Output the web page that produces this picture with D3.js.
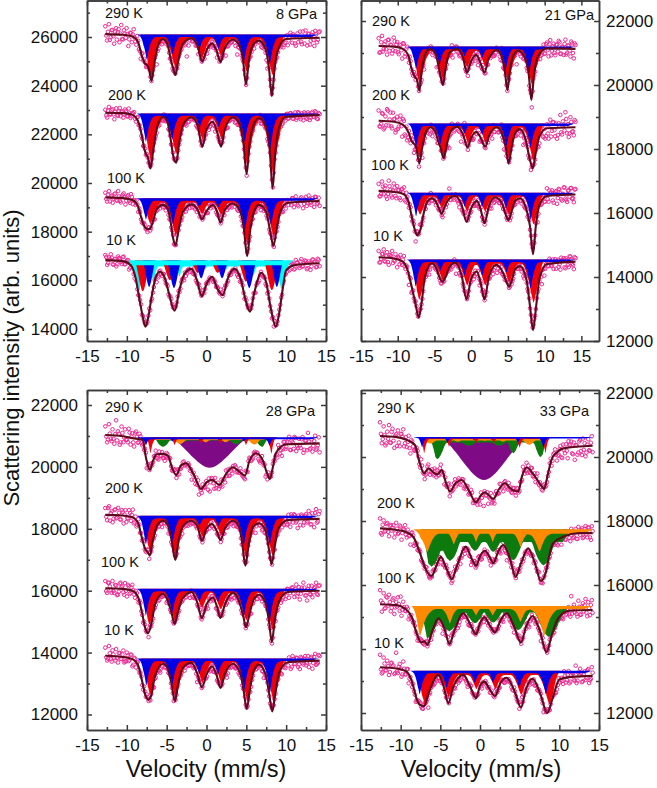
<!DOCTYPE html>
<html><head><meta charset="utf-8">
<script src="https://cdn.jsdelivr.net/npm/d3@7"></script>
<style>html,body{margin:0;background:#fff}svg{display:block}text{font-family:"Liberation Sans",Arial,sans-serif;fill:#111}</style>
</head><body><div id="c"></div>
<script>
// ---------- fitted envelopes, [velocity mm/s, counts] ----------
const fit_8_290=[[-12.7,26120],[-10.5,26090],[-9.3,26020],[-8.6,25800],[-8.1,25200],[-7.7,24900],[-7.46,24850],[-7.2,24650],[-6.9,24190],[-6.55,24900],[-6.1,25650],[-5.5,25920],[-4.9,25700],[-4.5,25100],[-4.2,24730],[-3.9,24440],[-3.55,25000],[-3,25700],[-1.9,25950],[-1.1,25600],[-.54,24990],[0,25450],[.7,25740],[1.25,25450],[1.75,24970],[2.25,25500],[3.3,25900],[4.2,25600],[4.6,25000],[4.96,24040],[5.3,25000],[5.8,25650],[6.6,25850],[7.4,25500],[7.85,24700],[8.2,23580],[8.55,24700],[9,25500],[10,25920],[14.2,25970]];
const fit_8_200=[[-12.7,22890],[-10.5,22870],[-9.3,22800],[-8.6,22550],[-8.15,22000],[-7.8,21400],[-7.6,21190],[-7.35,21050],[-7.04,20600],[-6.7,21300],[-6.2,22300],[-5.46,22720],[-4.9,22500],[-4.5,21800],[-4.2,21150],[-3.8,20830],[-3.45,21600],[-2.9,22400],[-1.9,22700],[-1.1,22350],[-.54,21490],[0,22200],[.8,22520],[1.3,22150],[1.83,21490],[2.3,22200],[3.3,22700],[4.2,22400],[4.65,21600],[5.04,20370],[5.4,21600],[5.9,22400],[6.6,22660],[7.5,22300],[7.95,21300],[8.3,19780],[8.65,21300],[9.1,22300],[10,22720],[14.2,22790]];
const fit_8_100=[[-12.7,19410],[-10.5,19380],[-9.3,19300],[-8.6,19050],[-8.2,18600],[-7.85,18250],[-7.46,18110],[-7.1,18110],[-6.75,18400],[-6.2,18950],[-5.46,19100],[-4.9,18950],[-4.5,18400],[-4.2,17750],[-3.88,17450],[-3.5,18100],[-2.9,18850],[-1.9,19120],[-1.1,18900],[-.58,18510],[0,18850],[.8,19100],[1.3,18850],[1.75,18370],[2.3,18900],[3.3,19160],[4.2,18850],[4.7,18100],[5.1,16990],[5.5,18100],[6,18850],[6.6,19100],[7.5,18800],[8,18000],[8.4,17420],[8.8,18100],[9.3,18850],[10.2,19190],[14.2,19260]];
const fit_8_10=[[-12.7,16830],[-10.5,16790],[-9.5,16620],[-8.9,16100],[-8.4,15200],[-8,14500],[-7.67,14090],[-7.3,14500],[-6.9,15300],[-6.4,16100],[-5.87,16350],[-5.3,16150],[-4.7,15450],[-4,14750],[-3.4,15600],[-2.8,16250],[-1.9,16470],[-1.2,16000],[-.58,15350],[0,15850],[.7,16150],[1.3,15700],[2.04,15390],[2.7,16100],[3.5,16470],[4.3,16050],[4.9,15200],[5.46,14710],[6,15500],[6.9,16310],[7.5,15900],[8.1,14800],[8.7,14090],[9.1,14600],[9.5,15500],[10,16420],[11,16620],[14.2,16700]];
const fit_21_290=[[-12.6,21220],[-10.5,21200],[-9.3,21130],[-8.6,20950],[-8.1,20500],[-7.6,20230],[-7.4,20180],[-7.06,19820],[-6.7,20500],[-6.2,21000],[-5.57,21125],[-4.9,21000],[-4.5,20650],[-4.2,20310],[-3.85,20000],[-3.5,20500],[-3,21000],[-1.95,21125],[-1.1,20850],[-.59,20385],[0,20750],[.68,20940],[1.25,20700],[1.8,20385],[2.35,20800],[3.5,21090],[4.2,20850],[4.6,20400],[4.93,19840],[5.3,20500],[5.8,20950],[6.4,21070],[7.3,20850],[7.85,20300],[8.2,19530],[8.55,20300],[9.1,20900],[10.3,21145],[14.2,21130]];
const fit_21_200=[[-12.6,18885],[-10.5,18850],[-9.3,18760],[-8.6,18550],[-8.1,18250],[-7.5,18070],[-7.06,17550],[-6.7,18000],[-6.2,18500],[-5.57,18680],[-4.9,18550],[-4.5,18250],[-4.2,18070],[-3.75,17710],[-3.3,18150],[-2.8,18550],[-1.95,18700],[-1.1,18450],[-.5,18050],[0,18350],[.68,18540],[1.3,18350],[1.9,18070],[2.5,18450],[3.5,18680],[4.3,18400],[4.75,18000],[5.1,17550],[5.5,18050],[6,18500],[6.65,18620],[7.4,18300],[8,17660],[8.4,17400],[8.8,17900],[9.3,18400],[10.3,18650],[14.2,18680]];
const fit_21_100=[[-12.6,16690],[-10.5,16660],[-9.3,16600],[-8.6,16400],[-8.1,15900],[-7.7,15500],[-7.4,15310],[-6.9,15490],[-6.5,15950],[-6,16350],[-5.34,16460],[-4.8,16350],[-4.4,16150],[-4.03,15970],[-3.6,16200],[-3,16450],[-2.17,16530],[-1.3,16250],[-.63,15720],[0,16150],[.77,16380],[1.3,16100],[1.81,15680],[2.4,16200],[3.26,16490],[4.2,16300],[4.7,15950],[5.07,15780],[5.5,16050],[6,16380],[6.65,16460],[7.4,16200],[8,15600],[8.42,14710],[8.8,15600],[9.3,16250],[10.3,16530],[14.2,16580]];
const fit_21_10=[[-12.6,14615],[-10.5,14580],[-9.3,14480],[-8.7,14250],[-8.2,13800],[-7.6,13190],[-7.15,12730],[-6.75,13200],[-6.3,14000],[-5.34,14430],[-4.7,14250],[-4.3,13980],[-3.9,13850],[-3.5,14000],[-3,14300],[-2.17,14450],[-1.3,14050],[-.63,13300],[0,13950],[.77,14170],[1.3,13800],[1.81,13300],[2.4,14000],[3.4,14380],[4.3,14150],[4.8,13850],[5.16,13700],[5.6,13950],[6,14250],[6.65,14340],[7.5,13950],[8,13100],[8.42,12340],[8.85,13100],[9.3,13950],[10.3,14405],[14.2,14480]];
const fit_28_290=[[-12.7,21030],[-10.5,20990],[-9.3,20930],[-8,20870],[-7.6,20300],[-7.1,19900],[-6.7,20200],[-6.3,20410],[-5.5,20420],[-4.83,20360],[-4.3,19950],[-3.8,19740],[-3.2,20050],[-2.54,20120],[-1.6,19750],[-.67,19290],[0,19500],[.7,19580],[1.63,19420],[2.4,19750],[3.3,19990],[4.1,19850],[4.83,19720],[5.4,20200],[6.2,20440],[7,20250],[7.6,19800],[7.96,19610],[8.3,19950],[8.7,20440],[10,20730],[14.2,20760]];
const fit_28_200=[[-12.7,18450],[-10.5,18430],[-9.3,18370],[-8.6,18200],[-8.15,17750],[-7.7,17350],[-7.46,17270],[-7.1,17140],[-6.75,17600],[-6.2,18100],[-5.46,18260],[-4.9,18150],[-4.4,17650],[-3.9,16990],[-3.5,17650],[-2.9,18100],[-1.9,18260],[-1.1,18050],[-.58,17610],[0,18000],[.7,18150],[1.25,17950],[1.75,17640],[2.3,18000],[3.3,18260],[4.1,18050],[4.5,17500],[4.88,16810],[5.3,17500],[5.8,18050],[6.6,18180],[7.4,17950],[7.8,17400],[8.17,16860],[8.55,17400],[9,18000],[10.2,18280],[14.2,18320]];
const fit_28_100=[[-12.7,16080],[-10.5,16060],[-9.3,16000],[-8.6,15800],[-8.1,15300],[-7.7,14800],[-7.33,14630],[-6.95,14900],[-6.4,15600],[-5.46,15900],[-4.9,15700],[-4.4,15300],[-4,14930],[-3.6,15300],[-3,15750],[-1.9,15960],[-1.2,15650],[-.58,15120],[0,15550],[.8,15780],[1.3,15500],[1.75,15120],[2.3,15550],[3.3,15930],[4.1,15650],[4.6,15200],[4.96,14820],[5.35,15200],[5.9,15700],[6.6,15870],[7.4,15600],[7.85,15000],[8.2,14340],[8.55,15000],[9.1,15650],[10.2,15960],[14.2,16000]];
const fit_28_10=[[-12.7,13900],[-10.5,13860],[-9.3,13790],[-8.6,13600],[-8.1,13100],[-7.7,12650],[-7.33,12480],[-6.95,12600],[-6.5,13200],[-5.46,13640],[-4.9,13500],[-4.4,13000],[-3.96,12430],[-3.55,13000],[-3,13500],[-1.9,13670],[-1.2,13350],[-.58,12880],[0,13300],[.7,13560],[1.3,13250],[1.75,12860],[2.3,13300],[3.3,13640],[4.2,13350],[4.65,12800],[5.04,12180],[5.45,12800],[5.9,13400],[6.6,13610],[7.4,13300],[7.85,12700],[8.25,12100],[8.65,12700],[9.1,13350],[10.2,13690],[14.2,13740]];
const fit_33_290=[[-12.6,20655],[-10.5,20620],[-9.3,20540],[-8.2,20375],[-7.7,19900],[-7.04,19490],[-6.5,19650],[-5.9,19520],[-5.37,19460],[-4.82,19590],[-4.3,19200],[-3.77,18920],[-3.1,19180],[-2.3,19280],[-1.4,18950],[-.5,18580],[.1,18800],[.63,18900],[1.2,18780],[1.68,18690],[2.4,19000],[3.14,19180],[4,18980],[4.82,18920],[5.3,19400],[5.87,19670],[6.9,19400],[7.6,19150],[8.1,19000],[8.5,19400],[9,19900],[9.7,20150],[10.5,20270],[14.2,20350]];
const fit_33_200=[[-12.6,17770],[-10.5,17720],[-9.3,17650],[-8.4,17500],[-7.55,16990],[-6.9,16520],[-6.1,16280],[-5.5,16600],[-4.95,16880],[-4.2,16500],[-3.56,16180],[-2.9,16600],[-1.8,17200],[-1,16800],[-.5,16600],[0,16900],[.63,17070],[1.2,16880],[1.68,16680],[2.3,17050],[2.93,17250],[3.8,16800],[4.49,16260],[5.2,16700],[6.08,17150],[6.9,16700],[7.67,16130],[8.3,16400],[8.8,17000],[9.2,17300],[10.5,17510],[12.5,17620],[14.2,17620]];
const fit_33_100=[[-12.6,15400],[-10.5,15370],[-9.5,15270],[-8.6,15000],[-8,14500],[-7.42,14200],[-7,14240],[-6.62,14130],[-6.1,14500],[-5.24,14960],[-4.5,14650],[-3.86,14160],[-3.2,14600],[-2.1,15120],[-1.2,14750],[-.5,14460],[0,14800],[.55,14990],[1.2,14750],[1.89,14520],[2.6,14900],[3.35,15120],[4.3,14700],[5.16,14200],[5.8,14700],[6.62,15030],[7.5,14600],[8.39,13900],[9,14400],[9.85,14960],[11.3,15200],[14.2,15220]];
const fit_33_10=[[-12.6,13430],[-10.5,13390],[-9.3,13300],[-8.6,13000],[-8,12450],[-7.55,12250],[-7.04,12220],[-6.5,12600],[-5.24,13190],[-4.6,12850],[-3.98,12300],[-3.4,12800],[-2.1,13190],[-1.2,12800],[-.5,12460],[0,12850],[.55,12980],[1.2,12750],[1.89,12530],[2.6,12950],[3.35,13100],[4.4,12650],[5.16,12170],[5.8,12750],[6.62,13070],[7.6,12600],[8.47,12000],[9.2,12500],[10,13050],[11.5,13130],[14.2,13160]];

// ---------- scatter of each spectrum about its fit, counts, one value per velocity channel ----------
const res_8_290=[320,-260,410,-120,180,-380,260,90,-310,400,-190,60,300,-420,140,-240,350,-90,210,-150,-280,180,120,-110,60,90,-30,50,120,-520,-160,40,-180,90,-60,120,-40,70,-90,30,140,-70,80,-30,60,-110,-620,-220,50,-90,130,-70,30,120,-60,90,-130,170,-40,60,110,-90,60,-240,80,140,-70,90,-330,-40,70,-60,100,-50,130,-90,60,-40,90,150,-80,60,-100,40,-170,90,110,-60,-140,90,-50,-220,80,-50,70,-40,120,-90,60,-50,80,-140,90,-260,60,140,180,-200,90,-150,280,-240,60,320,-300,170,-110,240,-330,140,-80,260];
const res_8_200=[120,-200,240,-70,150,-260,190,-110,210,40,-180,170,-90,230,-140,80,190,-120,150,60,-100,-140,90,60,-110,70,-60,130,-40,90,-80,110,-170,-60,70,-90,40,120,-70,60,-120,-40,60,100,-50,-150,-80,90,-60,50,130,-90,70,-50,110,-40,-130,80,-60,120,-90,-190,40,-60,100,-70,120,-40,-110,60,80,-50,-130,120,-70,50,90,-40,-80,110,-50,70,-140,100,50,-80,190,-70,60,-90,-170,80,50,-60,110,-40,-70,90,-50,70,-110,120,-60,140,-90,60,-140,170,-50,110,-180,90,-130,60,-90,150,-70,120,-160,40];
const res_8_100=[190,-170,260,40,-210,150,-90,280,-120,60,200,-240,110,-60,230,-150,90,170,-200,60,-130,90,-50,-120,70,-90,60,-150,-40,110,-70,60,90,-130,50,-100,-60,120,-80,170,-40,90,-70,60,-110,250,-90,40,110,-70,-120,60,80,-50,170,-60,-140,90,50,-70,300,-110,70,-60,90,-160,50,110,-40,-130,70,90,-60,120,-50,-90,60,280,-70,-200,90,50,-110,70,-50,-140,80,60,-90,210,-60,50,-130,80,-70,100,-50,-160,110,60,-90,70,180,-200,240,-110,60,190,-260,90,-170,250,-60,130,-230,170,-90,-200];
const res_8_10=[210,-190,120,250,-150,60,-230,180,90,-120,200,-70,140,-210,80,170,-130,60,-100,110,-90,60,80,-70,110,-50,-90,60,-240,-150,70,-60,90,-50,100,-70,60,-60,90,-40,110,-80,70,-230,-120,60,-70,90,-50,60,-100,80,-40,70,-130,60,-50,90,-40,-90,70,60,-80,120,-50,70,-60,-120,80,50,-60,100,-70,60,-40,90,-140,70,-50,110,-60,80,-150,70,-60,90,-40,60,-70,100,-60,-220,-280,60,-50,100,80,190,120,-90,250,-70,140,-170,210,90,-130,230,-60,160,-200,110,-240,170,60,-150,190,-120];
const res_21_290=[240,-190,320,-90,150,-260,210,60,-220,280,-130,170,-200,90,-310,190,-60,220,-140,110,-90,70,-60,130,-50,-110,90,-300,-60,70,-50,90,-130,60,-40,130,-90,50,210,-70,-50,100,-60,-90,-200,60,90,-50,-110,70,-40,130,-60,-180,50,-90,170,-50,90,-220,50,-70,120,-40,80,-120,60,230,-60,-90,90,50,-70,280,-140,60,-50,100,-70,-50,110,-60,-380,70,-50,90,-80,120,-60,190,-90,-330,70,-50,110,80,-150,-60,210,-110,180,-250,260,-80,150,-210,120,240,-170,60,-200,280,-130,90,-240,170,-300,120];
const res_21_200=[320,-180,240,-260,150,380,-130,280,-210,80,-320,190,-100,260,-380,160,-240,-310,90,-160,60,-280,-90,70,-150,60,-330,-100,80,130,-60,90,-220,-50,70,-130,210,-60,90,-40,110,-140,-380,-80,60,-90,50,120,-60,-300,-70,480,60,-100,70,-50,-130,90,-60,220,-170,-60,90,-50,100,-110,60,-40,190,-80,60,-100,50,300,-90,60,-140,90,-50,70,310,-60,-110,50,-70,90,-300,-160,60,-90,70,-50,260,-110,90,-200,150,230,-170,-270,120,-330,260,-90,180,-260,-340,140,400,-210,90,480,-180,-300,320,-140,-250,170];
const res_21_100=[220,-160,300,-90,180,-230,340,60,-180,260,-120,200,90,-210,150,240,-140,70,-110,130,-80,60,-300,90,-60,110,-50,120,-70,60,-90,190,-60,50,-110,80,-40,100,-170,60,-90,120,310,-70,50,-100,70,-50,-170,60,-80,90,130,-60,70,-100,240,-60,-130,90,-50,130,-100,-60,90,220,-90,-180,60,-120,-60,70,-50,120,-70,90,-50,230,-130,-60,80,-90,60,-40,70,-90,50,-70,60,110,-90,-50,260,-70,120,-90,90,-50,150,-120,240,-180,70,170,-220,110,-260,200,60,-170,240,-110,-220,140,200,-130,-240,170];
const res_21_10=[200,-150,110,260,-120,180,-210,90,230,-60,150,-240,70,180,-110,230,-90,60,-300,110,-70,-50,90,-60,80,-50,-70,90,-50,60,-180,80,-60,90,-50,70,-40,-120,70,-60,60,90,-50,-110,-60,120,-300,50,-70,60,-90,-50,90,-70,60,-100,70,-50,-60,120,-170,60,90,-50,-70,60,-90,50,-130,80,90,-50,-60,120,-40,-70,50,90,-60,-120,-90,60,80,-50,100,-70,-110,60,-40,70,-50,-60,70,-50,80,-60,120,-320,60,-50,90,-70,100,-60,-170,130,60,-120,-210,90,140,-180,70,-150,170,-60,-230,110];
const res_28_290=[280,-230,360,-110,200,-260,500,150,-280,310,-190,240,-90,280,-220,160,-260,230,-120,180,-100,-60,110,-260,-70,130,-60,90,150,-140,80,-60,-130,-200,70,-50,120,-90,60,140,-70,-170,-100,70,-50,-40,90,-60,-260,50,-200,-120,-320,-60,90,-70,50,-260,-340,70,-80,130,-60,-150,-90,-210,-60,120,90,-170,-70,50,110,-80,-50,130,-60,-90,70,-160,110,-70,-60,90,50,-110,-170,90,-60,-250,-180,70,-60,120,-70,-60,200,-130,-250,150,-130,90,240,-190,60,230,-230,-130,-50,150,-290,100,-210,70,-150,-260,80,-200,-60,-290];
const res_28_200=[220,-170,280,60,-230,170,-100,240,-130,170,-250,190,-60,210,-120,260,-90,-170,150,-60,-90,110,-60,80,-140,-50,90,-50,100,-70,60,-180,-50,120,-60,70,-100,60,80,-70,110,-60,-150,70,-50,-90,60,-80,-40,100,-60,120,-60,-90,50,-50,110,-70,-50,180,330,-60,70,-90,50,-120,60,-40,90,-70,-150,60,-50,110,-60,70,-40,-90,60,80,-50,100,-240,60,-60,90,-60,-110,50,70,-60,-90,60,150,-70,-90,80,60,130,-130,170,-220,110,180,-90,-270,60,160,-190,120,-100,270,-170,190,-260,320,-80,250];
const res_28_100=[230,-150,180,-60,240,-140,100,-190,170,50,-110,200,-220,120,-80,190,-60,120,-90,70,-40,-150,70,-50,-170,60,-90,50,-70,90,-50,140,-60,70,-130,90,-40,60,-90,70,-50,-70,90,-60,100,-40,70,-160,60,-40,50,-70,90,-100,-40,70,-60,-180,60,90,-60,150,-50,-70,50,-100,70,-60,100,-40,-150,60,-50,90,-60,80,-50,110,-60,-90,60,-180,-50,70,-60,80,-40,-90,60,-70,110,-60,-150,-90,60,70,-70,40,-60,170,-150,120,-190,70,140,-170,230,-60,-260,120,280,-140,-300,170,-120,-200,90,260,-130,170];
const res_28_10=[260,-150,320,-100,190,-60,240,-190,120,-70,210,-130,170,-90,130,-230,100,-150,90,-60,50,-130,60,90,-60,-110,70,-200,-60,80,-40,-60,90,-50,70,-40,110,-60,-190,-60,50,70,-50,60,-120,90,-40,-60,70,-50,60,-280,-50,70,-40,90,-100,60,-60,50,-90,70,-130,-40,70,-60,90,-50,-100,60,-40,70,-50,100,-60,50,-70,110,-40,-80,60,-120,-60,70,-40,-70,90,-60,-200,50,60,-80,-40,70,-50,80,-60,140,-160,90,-100,60,150,-220,190,-70,130,-170,-240,110,-100,170,-60,-190,90,-250,130,-130,-70,150];
const res_33_290=[430,-220,310,-280,150,360,-190,250,-340,90,220,-260,140,300,-120,-220,170,-350,60,-180,-50,130,-90,200,-70,-200,-90,120,-160,60,-90,80,120,-80,200,-60,-200,-70,80,-170,60,-90,140,-60,100,-130,50,-160,-100,70,-50,140,-180,-80,60,-60,-250,-100,-400,-90,60,-50,120,-120,-200,90,-70,140,-60,-200,70,-80,120,-50,-100,70,-150,90,-130,-60,240,-80,150,120,-50,160,-70,-150,200,-80,-60,-110,130,-140,-60,110,-180,90,170,-260,-110,130,-280,-60,120,-320,80,190,-210,-390,60,-170,220,-260,-100,-310,50,-130,100,-200];
const res_33_200=[310,-190,260,-60,190,-220,140,50,-240,220,-120,160,-270,80,210,-150,-60,-300,120,-230,-60,-90,60,-120,-40,-60,80,-70,-130,-40,60,-50,70,110,-60,-120,-40,90,-50,60,-130,-40,120,-60,50,-180,-40,70,-90,50,-60,-230,-50,80,-40,100,-60,-150,-50,-70,70,-60,-200,90,-50,-110,60,-90,-40,80,-60,-240,50,-70,90,-40,-60,70,-140,-50,-80,60,-70,-110,-40,60,-90,70,-50,100,-60,-170,-40,90,-50,-110,80,-60,70,-110,60,120,-70,160,-110,90,-80,190,-110,60,-160,200,-50,150,-120,220,-130,170,-210,60];
const res_33_100=[440,-230,350,-110,220,310,-200,160,-280,100,260,-140,-270,190,-60,130,-190,-90,-50,70,-40,-170,-60,90,-50,-100,70,-40,60,-90,-40,50,80,-60,-40,-260,60,-50,70,-40,90,-60,-50,70,-110,50,-60,-40,100,-40,-70,60,-90,-40,60,-100,-40,50,-110,70,-40,90,-50,-60,70,-40,-90,50,-60,-150,60,-50,80,-50,-70,-190,60,-40,100,-60,-50,400,60,-90,-40,70,-60,-60,90,-40,-220,60,-70,40,-80,60,90,-40,-50,70,-60,60,-70,150,-60,50,-110,450,90,-60,-110,300,-130,120,-40,350,-190,60,160,-90];
const res_33_10=[390,-190,310,-80,220,-220,150,50,-180,490,-130,170,-210,280,-100,110,-240,50,-140,-60,-190,-50,60,-40,-100,50,-70,-420,-60,60,-40,50,-120,-60,40,70,-50,-70,60,280,180,-50,-110,40,-60,-50,70,-60,-40,-140,60,90,-50,-60,40,-90,50,-140,-60,70,-50,40,-70,460,-60,130,-50,-90,60,-40,-110,-50,70,50,-60,100,-40,-70,-160,60,-50,60,-40,90,-60,-120,50,-40,-70,60,50,-90,-110,-60,50,-130,90,60,-50,-100,90,-40,-70,220,-140,90,-190,60,100,-130,-200,120,240,-180,70,-120,180,-220,-90,100];

// ---------- absorption lines of each component: [centre mm/s, lowest counts, half span mm/s] ----------
const red_8_290=[[-6.95,24400,1.9],[-3.85,24700,1.9],[-.55,25150,1.7],[1.85,25250,1.7],[5.05,24600,1.9],[8.3,24450,1.9]];
const blue_8_290=[[-7.5,25100,1.5],[-4.25,25300,1.5],[-.9,25500,1.4],[1.5,25500,1.4],[4.7,25000,1.5],[7.95,24900,1.5]];
const red_8_200=[[-7,21000,1.9],[-3.8,21200,1.9],[-.5,21800,1.7],[1.9,21800,1.7],[5.1,20800,1.9],[8.35,20450,1.9]];
const blue_8_200=[[-7.6,21700,1.5],[-4.3,21800,1.5],[-.85,22300,1.4],[1.55,22300,1.4],[4.8,21700,1.5],[8,21400,1.5]];
const red_8_100=[[-7.05,18350,1.9],[-3.85,17850,1.9],[-.55,18750,1.7],[1.85,18700,1.7],[5.15,17500,1.9],[8.45,17800,1.9]];
const blue_8_100=[[-7.6,18500,1.5],[-4.2,18300,1.5],[-.9,19000,1.4],[1.5,19000,1.4],[4.8,18000,1.5],[8.1,18300,1.5]];
const cyan_8_10=[[-8.5,15560,2.2],[-6.7,16000,1.6],[-3.4,16150,1.4],[-.1,16450,.9],[2.5,16450,.9],[5.9,16200,1.4],[9.4,15650,2]];
const red_8_10=[[-8,15550,1],[-4.6,16000,1],[-1.1,16300,.9],[1.4,16300,.9],[4.95,15950,1],[8.2,15590,1]];
const blue_8_10=[[-7.2,15730,.8],[-4.08,15680,.9],[-.67,16090,.8],[1.96,16090,.8],[5.37,15680,.9],[8.83,15730,.8]];
const red_21_290=[[-7,20050,1.9],[-3.85,20200,1.9],[-.55,20550,1.7],[1.9,20600,1.7],[5.05,20100,1.9],[8.3,20000,1.9]];
const blue_21_290=[[-7.5,20500,1.5],[-4.3,20650,1.5],[-.9,20900,1.4],[1.5,20850,1.4],[4.7,20500,1.5],[7.9,20400,1.5]];
const red_21_200=[[-7,17750,1.9],[-3.75,17800,1.9],[-.4,18200,1.7],[2,18200,1.7],[5.15,17750,1.9],[8.45,17650,1.9]];
const blue_21_200=[[-7.5,18050,1.5],[-4.2,18150,1.5],[-.9,18500,1.4],[1.5,18450,1.4],[4.8,18100,1.5],[8.1,18050,1.5]];
const red_21_100=[[-6.95,15950,1.9],[-3.95,16150,1.8],[-.55,16050,1.7],[1.9,16050,1.7],[5.15,15950,1.8],[8.5,15650,1.9]];
const blue_21_100=[[-7.5,15900,1.5],[-4.2,16300,1.4],[-.9,16200,1.4],[1.5,16200,1.4],[4.75,16150,1.4],[8.1,15800,1.5]];
const red_21_10=[[-7.05,13300,2],[-3.85,13900,1.8],[-.55,13750,1.8],[1.9,13750,1.8],[5.2,13850,1.8],[8.5,13200,2]];
const blue_21_10=[[-7.55,13700,1.6],[-4.2,14200,1.4],[-.9,14050,1.4],[1.5,14050,1.4],[4.8,14150,1.4],[8.1,13650,1.6]];
const red_28_290=[[-7.04,20450,1],[-4,20710,.9],[-.67,20770,.9],[1.7,20770,.9],[4.96,20710,.9],[8.17,20390,1]];
const green_28_290=[[-5.46,20650,1.4],[-2.6,20820,1.1],[3.7,20720,1.3],[7,20650,1.3]];
const orange_28_290=[[-3.3,20740,1.2],[-.1,20800,1],[2.4,20800,1],[6,20720,1.2]];
const purple_28_290=[[.4,19970,5]];
const blue_28_290=[[-7.6,20700,1],[-4.3,20820,.9],[-.9,20870,.8],[1.5,20870,.8],[4.7,20820,.9],[7.9,20690,1]];
const red_28_200=[[-7.05,17250,1.9],[-3.85,17100,1.9],[-.5,17750,1.7],[1.85,17800,1.7],[5,17050,1.9],[8.3,17150,1.9]];
const blue_28_200=[[-7.6,17500,1.5],[-4.25,17600,1.5],[-.9,18100,1.4],[1.5,18100,1.4],[4.7,17500,1.5],[7.95,17500,1.5]];
const red_28_100=[[-7.15,14900,1.9],[-3.95,15050,1.9],[-.55,15450,1.7],[1.8,15400,1.7],[5,15050,1.9],[8.3,14750,1.9]];
const blue_28_100=[[-7.6,15200,1.5],[-4.3,15300,1.5],[-.9,15650,1.4],[1.45,15650,1.4],[4.7,15200,1.5],[7.9,14950,1.5]];
const red_28_10=[[-7.05,12650,1.9],[-3.85,12550,1.9],[-.5,13050,1.7],[1.9,13000,1.7],[5.15,12450,1.9],[8.45,12400,1.9]];
const blue_28_10=[[-7.55,12950,1.5],[-4.3,12950,1.5],[-.9,13300,1.4],[1.45,13300,1.4],[4.75,12800,1.5],[7.95,12700,1.5]];
const orange_33_290=[[-6.2,20420,1.2],[-2.8,20480,1.2],[.6,20500,1],[2.9,20480,1.1],[6.2,20380,1.3]];
const green_33_290=[[-5.37,19940,1.5],[-1.4,20350,2],[2.4,20350,2],[4.2,20120,1.1],[7.63,20000,1.2]];
const red_33_290=[[-7.04,20125,1],[-3.9,20320,.9],[-.5,20430,.8],[1.76,20430,.8],[5,20290,.9],[8.26,20125,1]];
const purple_33_290=[[.5,19280,5.5]];
const blue_33_290=[[-7.3,20300,.9],[-4.1,20450,.8],[-.8,20530,.7],[1.5,20530,.7],[4.8,20450,.8],[8,20300,.9]];
const green_33_200=[[-6.1,16570,2.4],[-4.95,17060,1.5],[-3.77,16750,2.2],[-.63,17070,1.8],[1.68,17040,1.8],[4.2,16780,2],[8,16620,2.4]];
const orange_33_200=[[-6.65,17040,2.6],[-3.3,17280,1.8],[-.5,17350,1.4],[1.6,17350,1.4],[5.1,17200,2],[7.5,17050,2.6]];
const green_33_100=[[-6.62,14340,2.4],[-5.24,14960,1.4],[-3.86,14550,2.2],[-.63,14810,1.8],[1.68,14830,1.8],[4.82,14600,2],[8.72,14380,2.4]];
const orange_33_100=[[-7.55,14420,2.6],[-3.8,14800,1.8],[-.5,15050,1.4],[1.6,15050,1.4],[5.1,14850,2],[8.1,14420,2.6]];
const red_33_10=[[-6.85,12230,2],[-3.95,12510,1.8],[-.45,12750,1.6],[1.95,12750,1.6],[5.2,12570,1.8],[8.75,12270,2]];
const blue_33_10=[[-7.6,12590,1.6],[-4.2,12790,1.5],[-.65,12950,1.3],[1.65,12950,1.3],[4.95,12790,1.5],[8.3,12590,1.6]];

const velocityTicks=[-15,-10,-5,0,5,10,15];
const velocityMinor=[-12.5,-7.5,-2.5,2.5,7.5,12.5];
const colours={red:"#f00008",blue:"#0000e8",cyan:"#00fbfb",green:"#0c7a0c",orange:"#ff8a00",purple:"#7f0a86"};

// component: [colour, lines, top counts, band depth, band start, band end, shape]
const sharp=[[0,1],[.1,.78],[.22,.52],[.4,.28],[.65,.12],[1,0]];
const medium=[[0,1],[.12,.85],[.28,.58],[.5,.3],[.75,.12],[1,0]];
const bell=[[0,1],[.2,.9],[.4,.68],[.65,.35],[.85,.12],[1,0]];
const pair=(t,rf,bf,r,b)=>[["red",r,t,rf,-8.3,10.2,medium],["blue",b,t,bf,-8.8,14.1,sharp]];

const panels=[
 {title:"8 GPa",xr:[87,326],xd:[-15,15],top:.5,bottom:341,ya:[14000,329],yb:[26000,37],ticks:[14000,16000,18000,20000,22000,24000,26000],side:"left",
  titleAt:[317,19],
  spectra:[
   {t:"290 K",at:[105,18],fit:fit_8_290,res:res_8_290,comps:pair(26100,170,100,red_8_290,blue_8_290)},
   {t:"200 K",at:[108,100],fit:fit_8_200,res:res_8_200,comps:pair(22860,170,100,red_8_200,blue_8_200)},
   {t:"100 K",at:[107,183],fit:fit_8_100,res:res_8_100,comps:pair(19370,170,100,red_8_100,blue_8_100)},
   {t:"10 K",at:[106,245],fit:fit_8_10,res:res_8_10,comps:[["cyan",cyan_8_10,16810,240,-9.8,10.9,sharp],["red",red_8_10,16810,0,-9.6,10.7,bell],["blue",blue_8_10,16810,0,-9.6,10.7,bell],["cyan",[],16810,190,-9.8,10.9,sharp]]}]},
 {title:"21 GPa",xr:[361,599],xd:[-15,17.4],top:.5,bottom:341,ya:[14000,277],yb:[22000,21],ticks:[12000,14000,16000,18000,20000,22000],side:"right",
  titleAt:[594,20],
  spectra:[
   {t:"290 K",at:[372,26],fit:fit_21_290,res:res_21_290,comps:pair(21200,130,80,red_21_290,blue_21_290)},
   {t:"200 K",at:[372,100],fit:fit_21_200,res:res_21_200,comps:pair(18800,130,80,red_21_200,blue_21_200)},
   {t:"100 K",at:[371,170],fit:fit_21_100,res:res_21_100,comps:pair(16635,130,80,red_21_100,blue_21_100)},
   {t:"10 K",at:[373,241],fit:fit_21_10,res:res_21_10,comps:pair(14550,130,80,red_21_10,blue_21_10)}]},
 {title:"28 GPa",xr:[87,326],xd:[-15,15],top:390,bottom:730,ya:[12000,714.5],yb:[22000,405],ticks:[12000,14000,16000,18000,20000,22000],side:"left",
  titleAt:[315,416],
  spectra:[
   {t:"290 K",at:[105,412],fit:fit_28_290,res:res_28_290,comps:[["purple",purple_28_290,20960,0,-5.5,6.5,bell],["green",green_28_290,20960,110,-7,8,bell],["orange",orange_28_290,20960,90,-7,8,bell],["red",red_28_290,20960,60,-8,9,sharp],["blue",blue_28_290,20960,70,-8.8,14.1,sharp]]},
   {t:"200 K",at:[105,493],fit:fit_28_200,res:res_28_200,comps:pair(18420,130,80,red_28_200,blue_28_200)},
   {t:"100 K",at:[101,567],fit:fit_28_100,res:res_28_100,comps:pair(16060,130,80,red_28_100,blue_28_100)},
   {t:"10 K",at:[104,635],fit:fit_28_10,res:res_28_10,comps:pair(13810,130,80,red_28_10,blue_28_10)}]},
 {title:"33 GPa",xr:[361,599],xd:[-15,15],top:390,bottom:730,ya:[12000,713],yb:[22000,393],ticks:[12000,14000,16000,18000,20000,22000],side:"right",
  titleAt:[589,416],
  spectra:[
   {t:"290 K",at:[377,413],fit:fit_33_290,res:res_33_290,comps:[["purple",purple_33_290,20625,0,-5.5,6.5,bell],["green",green_33_290,20625,170,-6.5,8.8,bell],["orange",orange_33_290,20625,110,-7.6,9,bell],["red",red_33_290,20625,60,-8,9.2,sharp],["blue",blue_33_290,20625,50,-8.4,14.2,sharp]]},
   {t:"200 K",at:[377,508],fit:fit_33_200,res:res_33_200,comps:[["green",green_33_200,17740,400,-7.4,11.4,bell],["orange",orange_33_200,17740,140,-8.4,14.2,sharp]]},
   {t:"100 K",at:[377,583],fit:fit_33_100,res:res_33_100,comps:[["green",green_33_100,15340,200,-7.6,11.4,bell],["orange",orange_33_100,15340,90,-8.6,14.2,sharp]]},
   {t:"10 K",at:[374,648],fit:fit_33_10,res:res_33_10,comps:pair(13320,130,80,red_33_10,blue_33_10)}]}
];

const svg=d3.select("#c").append("svg").attr("width",657).attr("height",788);
const profileAt=(p,u)=>{const a=Math.abs(u);if(a>=1)return 0;const i=d3.bisector(d=>d[0]).right(p,a);const l=p[i-1],r=p[i];return l[1]+(r[1]-l[1])*(a-l[0])/(r[0]-l[0]);};

panels.forEach(p=>{
 const g=svg.append("g");
 const x=d3.scaleLinear(p.xd,p.xr);
 const s=d3.scaleLinear([p.ya[0],p.yb[0]],[p.ya[1],p.yb[1]]);
 const y=s.copy().domain([s.invert(p.bottom),s.invert(p.top)]).range([p.bottom,p.top]);
 p.spectra.forEach(sp=>{
  const vs=sp.fit.map(d=>d[0]),cs=sp.fit.map(d=>d[1]);
  const fitAt=d3.scaleLinear(vs,cs);
  const from=vs[0],to=vs[vs.length-1],n=sp.res.length;
  const chan=i=>from+(to-from)*i/(n-1);
  const dots=sp.res.map((d,i)=>[chan(i),d]).concat(sp.res.slice().reverse().slice(1).map((d,i)=>[chan(i+.5),d*.7]));
  g.append("g").selectAll("circle").data(dots).join("circle")
   .attr("cx",d=>x(d[0])).attr("cy",d=>y(fitAt(d[0])+d[1]))
   .attr("r",1.8).attr("fill","none").attr("stroke","#ee2a92").attr("stroke-width",1);
  sp.comps.forEach(([col,lines,top,band,b0,b1,shape])=>{
   const edge=d3.scaleLinear([b0,b0+.8,b1-1,b1],[0,band,band,0]).clamp(true);
   const taper=d3.scaleLinear([b0,b0+.9,b1-.9,b1],[0,1,1,0]).clamp(true);
   const knots=new Set([b0,b0+.8,b0+.9,b1-1,b1-.9,b1]);
   lines.forEach(([c,,w])=>shape.forEach(([u])=>{knots.add(c-u*w);knots.add(c+u*w);}));
   const xs=[...knots].filter(v=>v>=b0&&v<=b1).sort(d3.ascending);
   const depthAt=v=>Math.max(edge(v),...lines.map(([c,low,w])=>(top-low)*profileAt(shape,(v-c)/w)*taper(v)));
   const area=d3.area().x(v=>x(v)).y0(y(top)).y1(v=>y(top-depthAt(v))).curve(d3.curveMonotoneX);
   g.append("path").attr("d",area(xs)).attr("fill",colours[col]);
  });
  const line=d3.line().x(d=>x(d[0])).y(d=>y(d[1])).curve(d3.curveMonotoneX);
  g.append("path").attr("d",line(sp.fit)).attr("fill","none").attr("stroke","#5e0a1c").attr("stroke-width",2.1);
  g.append("text").attr("x",sp.at[0]).attr("y",sp.at[1]).attr("font-size",14.5).text(sp.t);
 });
 g.append("text").attr("x",p.titleAt[0]).attr("y",p.titleAt[1]).attr("text-anchor","end").attr("font-size",14.5).text(p.title);
 // axes
 const ax=(gen,tx,ty)=>{const a=g.append("g").attr("transform",`translate(${tx},${ty})`).call(gen);a.selectAll("path,line").attr("stroke","#3a3a3a").attr("stroke-width",1.5);a.selectAll("text").attr("font-size",17).attr("font-family","Liberation Sans").attr("fill","#111");return a;};
 const fmt=d=>String(d);
 ax(d3.axisBottom(x).tickValues(velocityTicks).tickSizeInner(-5).tickSizeOuter(0).tickFormat(fmt).tickPadding(9),0,p.bottom);
 ax(d3.axisBottom(x).tickValues(velocityMinor).tickSizeInner(-3).tickSizeOuter(0).tickFormat(""),0,p.bottom);
 ax(d3.axisTop(x).tickValues(velocityTicks).tickSizeInner(-5).tickSizeOuter(0).tickFormat(""),0,p.top);
 ax(d3.axisTop(x).tickValues(velocityMinor).tickSizeInner(-3).tickSizeOuter(0).tickFormat(""),0,p.top);
 const minor=p.ticks.map(d=>d+1000).concat([p.ticks[0]-1000]).filter(d=>{const q=y(d);return q>p.top&&q<p.bottom;});
 const major=p.ticks.filter(d=>{const q=y(d);return q>=p.top-1&&q<=p.bottom+1;});
 const left=p.xr[0],right=p.xr[1];
 ax(d3.axisLeft(y).tickValues(major).tickSizeInner(-5).tickSizeOuter(0).tickFormat(p.side==="left"?fmt:"").tickPadding(9),left,0);
 ax(d3.axisLeft(y).tickValues(minor).tickSizeInner(-3).tickSizeOuter(0).tickFormat(""),left,0);
 ax(d3.axisRight(y).tickValues(major).tickSizeInner(-5).tickSizeOuter(0).tickFormat(p.side==="right"?fmt:"").tickPadding(7),right,0);
 ax(d3.axisRight(y).tickValues(minor).tickSizeInner(-3).tickSizeOuter(0).tickFormat(""),right,0);
});
svg.append("text").attr("x",206).attr("y",777).attr("text-anchor","middle").attr("font-size",23.5).text("Velocity (mm/s)");
svg.append("text").attr("x",481).attr("y",777).attr("text-anchor","middle").attr("font-size",23.5).text("Velocity (mm/s)");
svg.append("text").attr("transform","translate(19,358) rotate(-90)").attr("text-anchor","middle").attr("font-size",22).text("Scattering intensity (arb. units)");
</script></body></html>
